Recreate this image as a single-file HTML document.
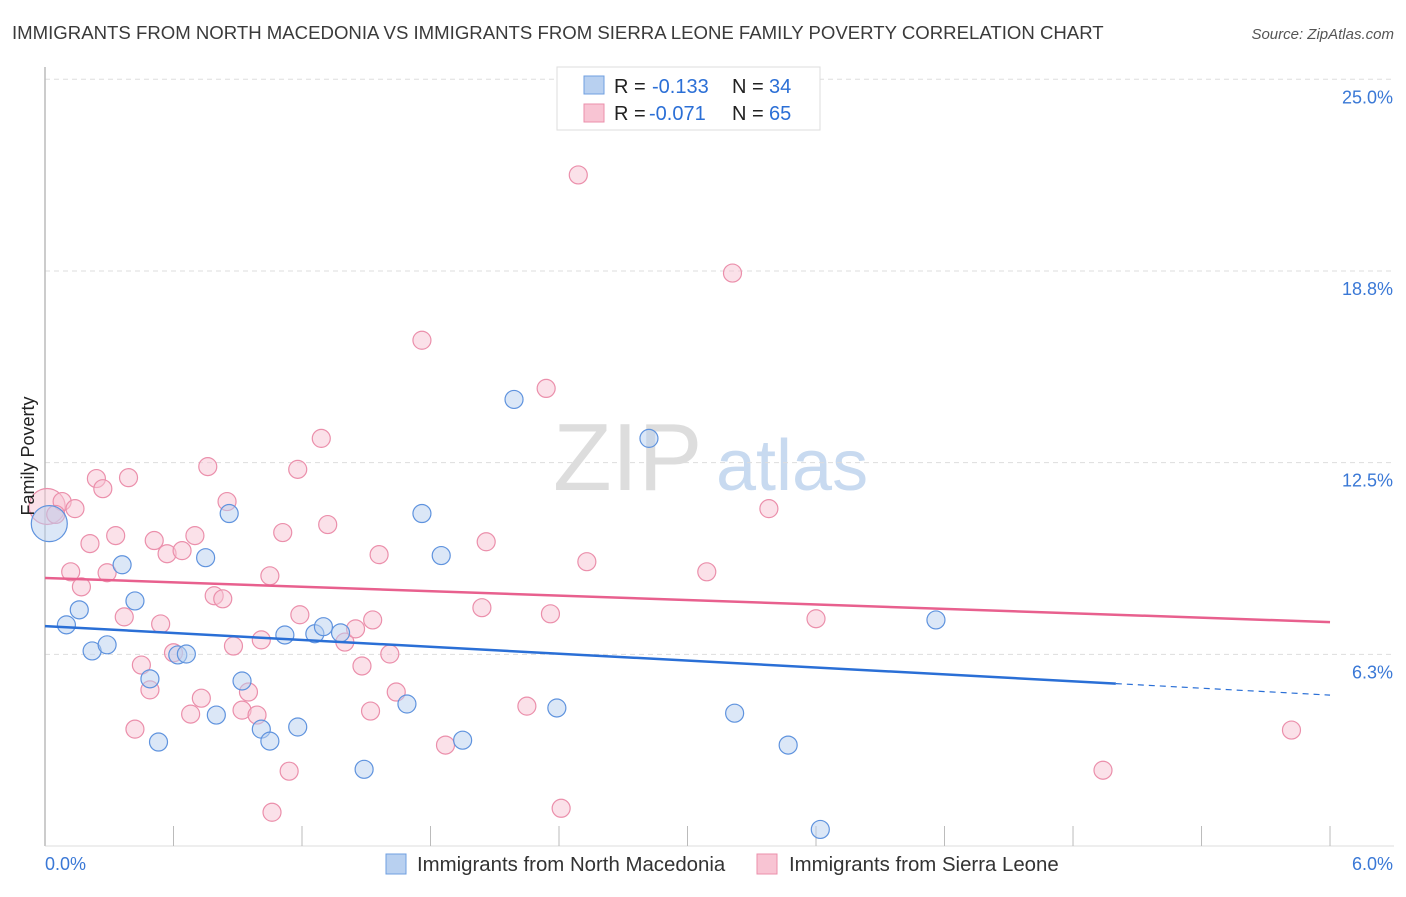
<!DOCTYPE html>
<html><head><meta charset="utf-8"><style>
body{margin:0;background:#fff;font-family:"Liberation Sans",sans-serif}
svg text{font-family:"Liberation Sans",sans-serif}
</style></head><body>
<svg id="c" width="1406" height="892">
<text x="12" y="39" font-size="18.6" fill="#3a3a3a">IMMIGRANTS FROM NORTH MACEDONIA VS IMMIGRANTS FROM SIERRA LEONE FAMILY POVERTY CORRELATION CHART</text>
<text x="1394" y="39" font-size="15" fill="#555" font-style="italic" text-anchor="end">Source: ZipAtlas.com</text>
<g><text x="553" y="490" font-size="96" font-family="Liberation Serif" fill="#ddd">ZIP</text><text x="716" y="490" font-size="72" fill="#c8daf0">atlas</text></g>
<g id="grid"></g><g id="marks"></g>
<text transform="translate(34,456) rotate(-90)" font-size="18" fill="#222" text-anchor="middle">Family Poverty</text>
<g>
<rect x="557" y="67" width="263" height="63" fill="#fff" stroke="#ddd"/>
<rect x="584" y="76" width="20" height="18" fill="#b8d0f0" stroke="#6f9fe0"/>
<rect x="584" y="104" width="20" height="18" fill="#f8c4d3" stroke="#eb8fab"/>
<text y="93" font-size="20" fill="#222"><tspan x="614">R =</tspan><tspan x="652" fill="#2b6fd6">-0.133</tspan><tspan x="732">N =</tspan><tspan x="769" fill="#2b6fd6">34</tspan></text>
<text y="120" font-size="20" fill="#222"><tspan x="614">R =</tspan><tspan x="649" fill="#2b6fd6">-0.071</tspan><tspan x="732">N =</tspan><tspan x="769" fill="#2b6fd6">65</tspan></text>
</g>
<g>
<rect x="386" y="854" width="20" height="20" fill="#b8d0f0" stroke="#6f9fe0"/>
<text x="417" y="871" font-size="20.4" fill="#333">Immigrants from North Macedonia</text>
<rect x="757" y="854" width="20" height="20" fill="#f8c4d3" stroke="#eb8fab"/>
<text x="789" y="871" font-size="20.4" fill="#333">Immigrants from Sierra Leone</text>
</g>
</svg>
<script>
const yTicks=[25,18.75,12.5,6.25];
const yTickLabels=["25.0%","18.8%","12.5%","6.3%"];
const xTicks=[0,0.6,1.2,1.8,2.4,3.0,3.6,4.2,4.8,5.4,6.0];
const xEndLabels=["0.0%","6.0%"];
const blueX=[0.02,0.10,0.16,0.22,0.29,0.36,0.42,0.49,0.53,0.62,0.66,0.75,0.80,0.86,0.92,1.01,1.05,1.12,1.18,1.26,1.30,1.38,1.49,1.69,1.76,1.85,1.95,2.19,2.39,2.82,3.22,3.47,3.62,4.16];
const blueY=[10.51,7.21,7.70,6.36,6.56,9.17,7.99,5.45,3.39,6.23,6.26,9.4,4.27,10.84,5.38,3.81,3.42,6.88,3.88,6.92,7.15,6.95,2.50,4.63,10.84,9.47,3.45,14.56,4.50,13.29,4.33,3.29,0.54,7.37];
const pinkX=[0.01,0.08,0.05,0.14,0.24,0.27,0.39,0.21,0.33,0.12,0.17,0.29,0.37,0.51,0.57,0.64,0.70,0.54,0.45,0.49,0.42,0.60,0.73,0.68,0.76,0.85,0.79,0.83,0.88,0.95,0.92,0.99,1.01,1.05,1.11,1.14,1.06,1.18,1.19,1.29,1.32,1.40,1.45,1.48,1.52,1.56,1.53,1.61,1.64,1.76,1.87,2.04,2.06,2.25,2.34,2.36,2.41,2.49,2.53,3.09,3.21,3.38,3.60,4.94,5.82];
const pinkY=[11.07,11.23,10.81,11.00,11.98,11.65,12.01,9.86,10.12,8.94,8.45,8.91,7.47,9.96,9.53,9.63,10.12,7.24,5.90,5.09,3.81,6.30,4.82,4.30,12.37,11.23,8.16,8.06,6.52,5.02,4.43,4.27,6.72,8.81,10.22,2.44,1.10,12.28,7.54,13.29,10.48,6.65,7.08,5.87,4.40,9.50,7.37,6.26,5.02,16.49,3.29,7.77,9.92,4.56,14.92,7.57,1.23,21.88,9.27,8.94,18.68,11.00,7.41,2.47,3.78];
const pinkTrend=[8.74,7.30];
const blueTrend=[7.17,4.92];
const blueSolidEnd=5.0;
const X=v=>45+v*214.17, Y=v=>846-v*30.67;
const NS='http://www.w3.org/2000/svg';
function mk(t,a,p){const e=document.createElementNS(NS,t);for(const k in a)e.setAttribute(k,a[k]);p.appendChild(e);return e;}
const g=document.getElementById('grid'), m=document.getElementById('marks');
yTicks.forEach((t,i)=>{
 const l=mk('line',{x1:45,x2:1394,y1:Y(t),y2:Y(t),stroke:'#ddd','stroke-dasharray':'5,4'},g);
 
 
 const tx=mk('text',{x:1393,y:Y(t)+24,'font-size':18,fill:'#3a78d6','text-anchor':'end'},g);tx.textContent=yTickLabels[i];
 
 
});
const ax=mk('line',{x1:45,x2:45,y1:67,y2:846,stroke:'#bbb','stroke-width':1.5},g);


const bx=mk('line',{x1:45,x2:1394,y1:846,y2:846,stroke:'#ddd'},g);


xTicks.forEach(t=>{const l=mk('line',{x1:X(t),x2:X(t),y1:826,y2:846,stroke:'#bbb'},g);
 
 });
[[0,'start'],[6,'end']].forEach((d,i)=>{const t=mk('text',{x:i?1393:45,y:870,'font-size':18,fill:'#3a78d6','text-anchor':d[1]},g);t.textContent=xEndLabels[i];
 
 });
function pts(xs,ys,fill,stroke,name){xs.forEach((x,i)=>{const c=mk('circle',{cx:X(x),cy:Y(ys[i]),r:i===0?18:9,fill:fill,'fill-opacity':0.5,stroke:stroke,'stroke-width':1.2},m);
 
 });}
pts(pinkX,pinkY,'#f8c4d3','#eb8fab','point-sierra-leone');
pts(blueX,blueY,'#b8d0f0','#5f93de','point-north-macedonia');
const pt=mk('line',{x1:X(0),y1:Y(pinkTrend[0]),x2:X(6),y2:Y(pinkTrend[1]),stroke:'#e8608e','stroke-width':2.5},m);


const bAt=v=>blueTrend[0]+(blueTrend[1]-blueTrend[0])*v/6;
const bt=mk('line',{x1:X(0),y1:Y(bAt(0)),x2:X(blueSolidEnd),y2:Y(bAt(blueSolidEnd)),stroke:'#2a6fd6','stroke-width':2.5},m);


const bd=mk('line',{x1:X(blueSolidEnd),y1:Y(bAt(blueSolidEnd)),x2:X(6),y2:Y(bAt(6)),stroke:'#2a6fd6','stroke-width':1.2,'stroke-dasharray':'6,5'},m);


</script>
</body></html>
